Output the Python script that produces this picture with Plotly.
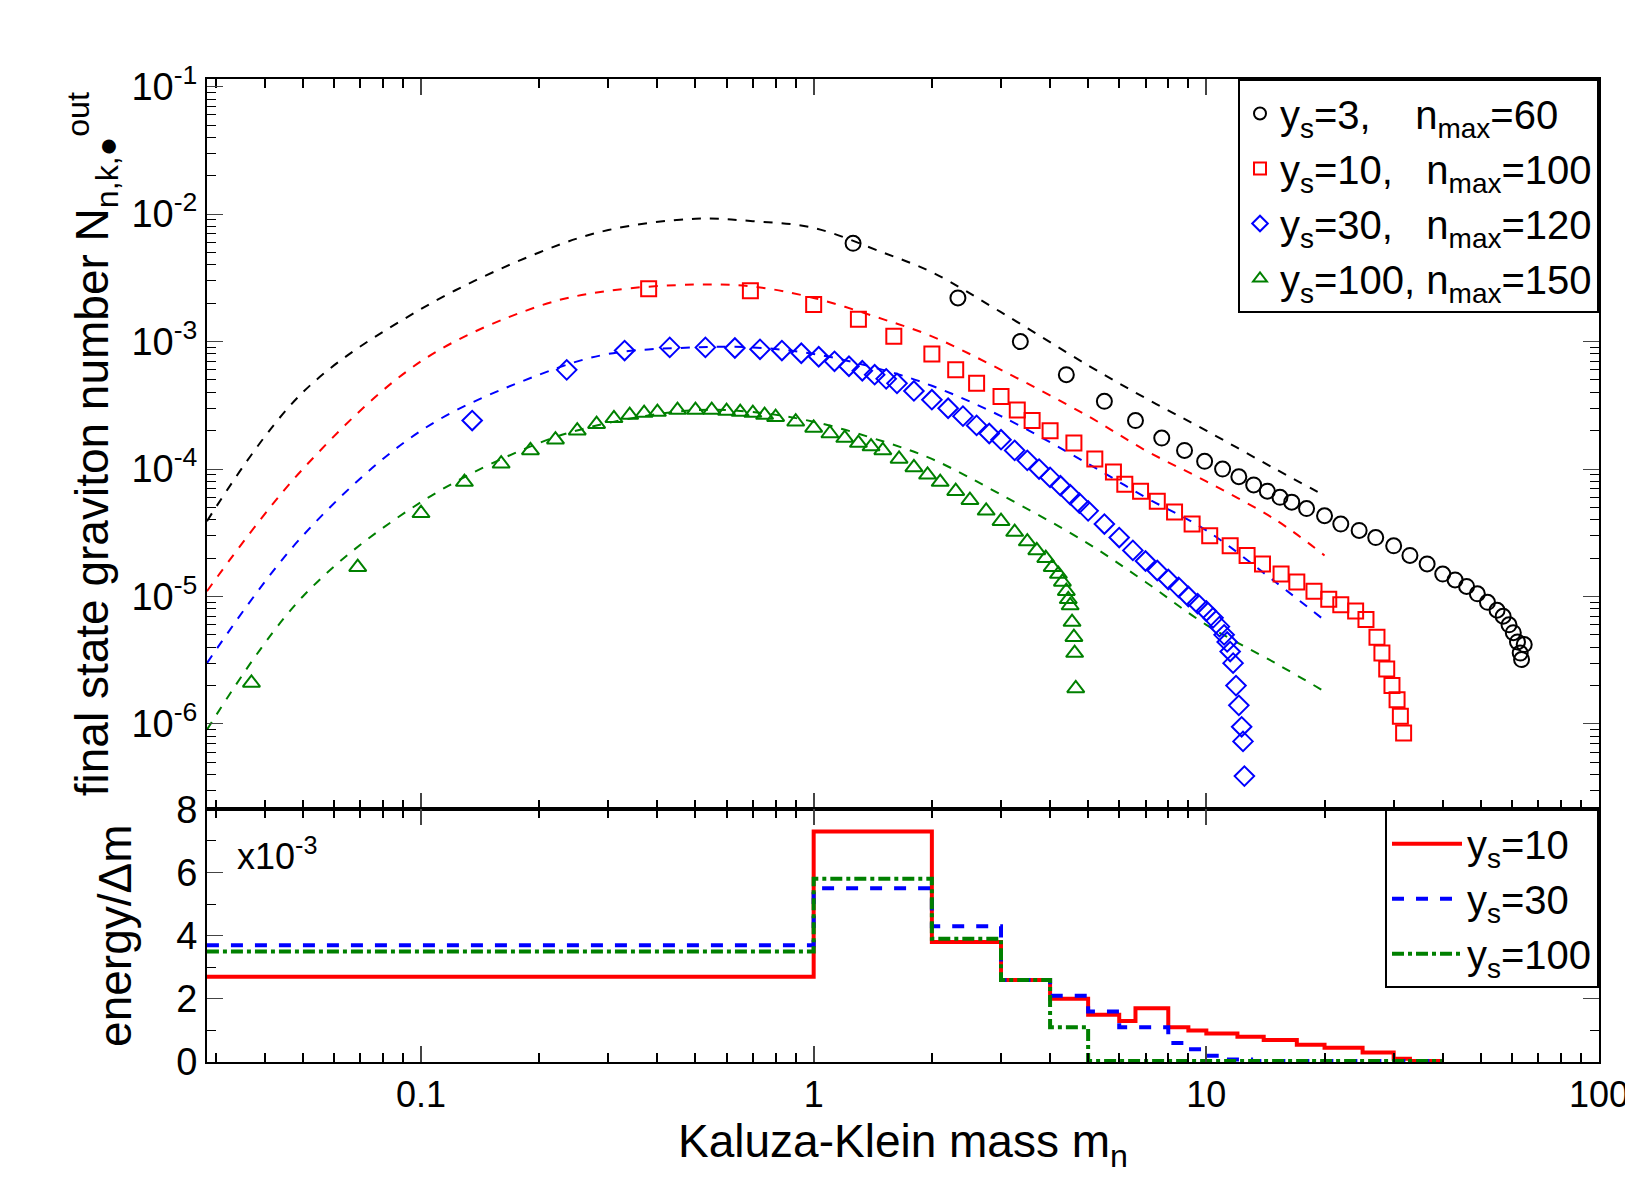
import plotly.graph_objects as go

# ---------- data ----------
curve_m = [0.0285, 0.05, 0.1, 0.2, 0.3, 0.5, 0.7, 1, 1.5, 2, 3, 5, 7, 10, 15, 20]
curve_y3 = [3.9e-5, 4e-4, 1.8e-3, 5e-3, 7.5e-3, 9.2e-3, 8.8e-3, 7.8e-3, 5e-3, 3.5e-3, 1.7e-3, 6.5e-4, 3.6e-4, 2e-4, 1e-4, 6.2e-5]
curve_y10 = [1.1e-5, 1e-4, 7e-4, 1.9e-3, 2.5e-3, 2.8e-3, 2.7e-3, 2.2e-3, 1.5e-3, 1.1e-3, 6e-4, 2.6e-4, 1.4e-4, 8e-5, 4e-5, 2.1e-5]
curve_y30 = [3e-6, 3e-5, 2e-4, 5.5e-4, 8e-4, 9e-4, 9e-4, 8e-4, 6e-4, 4.5e-4, 2.6e-4, 1.1e-4, 6e-5, 3.3e-5, 1.3e-5, 6.5e-6]
curve_y100 = [9e-7, 1e-5, 5.5e-5, 1.6e-4, 2.3e-4, 2.9e-4, 2.8e-4, 2.35e-4, 1.65e-4, 1.2e-4, 6.3e-5, 2.6e-5, 1.3e-5, 6e-6, 3e-6, 1.8e-6]

m3 = [1.26, 2.33, 3.36, 4.4, 5.5, 6.6, 7.7, 8.8, 9.9, 11, 12.1, 13.2, 14.3, 15.4, 16.5, 18, 20, 22, 24.5, 27, 30, 33, 36.5, 40, 43, 46, 49, 52, 55, 57, 59, 60.5, 62, 63, 63.5, 64.5]
n3 = [5.9e-3, 2.2e-3, 1e-3, 5.5e-4, 3.4e-4, 2.4e-4, 1.75e-4, 1.4e-4, 1.15e-4, 1e-4, 8.7e-5, 7.5e-5, 6.7e-5, 6e-5, 5.5e-5, 4.9e-5, 4.3e-5, 3.7e-5, 3.3e-5, 2.9e-5, 2.5e-5, 2.1e-5, 1.8e-5, 1.5e-5, 1.35e-5, 1.2e-5, 1.05e-5, 9e-6, 7.8e-6, 7e-6, 6e-6, 5.2e-6, 4.4e-6, 3.6e-6, 3.2e-6, 4.2e-6]

m10 = [0.38, 0.69, 1.0, 1.3, 1.6, 2.0, 2.3, 2.6, 3.0, 3.3, 3.6, 4.0, 4.6, 5.2, 5.8, 6.2, 6.8, 7.5, 8.3, 9.2, 10.2, 11.5, 12.7, 13.9, 15.5, 17, 18.8, 20.5, 22, 24, 25.5, 27.2, 28, 28.8, 29.7, 30.6, 31.2, 31.8]
n10 = [2.6e-3, 2.5e-3, 1.95e-3, 1.5e-3, 1.1e-3, 8e-4, 6e-4, 4.7e-4, 3.7e-4, 2.9e-4, 2.4e-4, 2e-4, 1.6e-4, 1.2e-4, 9.5e-5, 7.6e-5, 6.7e-5, 5.6e-5, 4.6e-5, 3.7e-5, 3e-5, 2.5e-5, 2.1e-5, 1.8e-5, 1.5e-5, 1.3e-5, 1.1e-5, 9.5e-6, 8.6e-6, 7.7e-6, 6.6e-6, 4.8e-6, 3.6e-6, 2.7e-6, 2e-6, 1.55e-6, 1.15e-6, 8.5e-7]

m30 = [0.135, 0.235, 0.33, 0.43, 0.53, 0.63, 0.73, 0.83, 0.93, 1.03, 1.13, 1.23, 1.33, 1.43, 1.53, 1.63, 1.8, 2.0, 2.2, 2.4, 2.6, 2.8, 3.0, 3.25, 3.5, 3.75, 4.0, 4.25, 4.5, 4.75, 5.0, 5.5, 6.0, 6.5, 7.0, 7.5, 8.0, 8.5, 9.0, 9.5, 10.0, 10.4, 10.8, 11.1, 11.3, 11.5, 11.7, 11.9, 12.1, 12.3, 12.4, 12.5]
n30 = [2.4e-4, 6e-4, 8.5e-4, 9e-4, 9e-4, 8.9e-4, 8.7e-4, 8.5e-4, 8.1e-4, 7.6e-4, 7e-4, 6.4e-4, 5.9e-4, 5.5e-4, 5.1e-4, 4.7e-4, 4.1e-4, 3.5e-4, 3e-4, 2.6e-4, 2.2e-4, 1.9e-4, 1.7e-4, 1.4e-4, 1.17e-4, 1e-4, 8.6e-5, 7.4e-5, 6.3e-5, 5.4e-5, 4.7e-5, 3.7e-5, 2.9e-5, 2.3e-5, 1.9e-5, 1.6e-5, 1.36e-5, 1.18e-5, 1e-5, 8.8e-6, 7.7e-6, 6.8e-6, 5.8e-6, 5e-6, 4.4e-6, 3.7e-6, 3e-6, 2e-6, 1.4e-6, 9.5e-7, 7.3e-7, 3.9e-7]

m100 = [0.037, 0.069, 0.1, 0.129, 0.16, 0.19, 0.22, 0.25, 0.28, 0.31, 0.34, 0.37, 0.4, 0.45, 0.5, 0.55, 0.6, 0.65, 0.7, 0.75, 0.8, 0.9, 1.0, 1.1, 1.2, 1.3, 1.4, 1.5, 1.65, 1.8, 1.95, 2.1, 2.3, 2.5, 2.75, 3.0, 3.25, 3.5, 3.7, 3.9, 4.05, 4.2, 4.3, 4.4, 4.45, 4.5, 4.55, 4.6, 4.62, 4.65]
n100 = [2.1e-6, 1.7e-5, 4.5e-5, 7.9e-5, 1.1e-4, 1.4e-4, 1.7e-4, 2e-4, 2.25e-4, 2.5e-4, 2.65e-4, 2.75e-4, 2.8e-4, 2.9e-4, 2.9e-4, 2.9e-4, 2.85e-4, 2.8e-4, 2.75e-4, 2.65e-4, 2.55e-4, 2.35e-4, 2.1e-4, 1.9e-4, 1.75e-4, 1.6e-4, 1.5e-4, 1.4e-4, 1.2e-4, 1.03e-4, 9e-5, 7.9e-5, 6.7e-5, 5.7e-5, 4.7e-5, 3.9e-5, 3.2e-5, 2.7e-5, 2.3e-5, 2e-5, 1.7e-5, 1.5e-5, 1.3e-5, 1.1e-5, 9.5e-6, 8.5e-6, 6.3e-6, 4.8e-6, 3.6e-6, 1.9e-6]

# energy histogram (units of 1e-3), bin edges and values
e10_edges = [0.0285, 1, 2, 3, 4, 5, 6, 6.6, 8, 9, 10, 12, 14, 17, 20, 25, 30, 33, 40]
e10_vals = [2.7, 7.3, 3.8, 2.6, 2.0, 1.5, 1.3, 1.7, 1.1, 1.0, 0.9, 0.8, 0.7, 0.55, 0.45, 0.3, 0.1, 0.03]
e30_edges = [0.0285, 1, 2, 3, 4, 5, 6, 6.6, 8, 9, 10, 11, 13, 40]
e30_vals = [3.7, 5.5, 4.3, 2.6, 2.1, 1.6, 1.1, 1.1, 0.6, 0.4, 0.2, 0.08, 0.03]
e100_edges = [0.0285, 1, 2, 3, 4, 5, 40]
e100_vals = [3.5, 5.8, 3.9, 2.6, 1.1, 0.03]

# ---------- figure ----------
FONT = "Liberation Sans, Arial, sans-serif"
fig = go.Figure()

def curve(x, y, c):
    fig.add_trace(go.Scatter(x=x, y=y, mode="lines", line=dict(color=c, width=2, dash="dash"),
                             showlegend=False, xaxis="x", yaxis="y", line_shape="spline"))

def marks(x, y, c, sym, name):
    fig.add_trace(go.Scatter(x=x, y=y, mode="markers", name=name,
                             marker=dict(symbol=sym, size=15, color=c, line=dict(color=c, width=2)),
                             xaxis="x", yaxis="y", legend="legend"))

curve(curve_m, curve_y3, "black")
curve(curve_m, curve_y10, "red")
curve(curve_m, curve_y30, "blue")
curve(curve_m, curve_y100, "green")
marks(m3, n3, "black", "circle-open", "y<sub>s</sub>=3,    n<sub>max</sub>=60")
marks(m10, n10, "red", "square-open", "y<sub>s</sub>=10,   n<sub>max</sub>=100")
marks(m30, n30, "blue", "diamond-open", "y<sub>s</sub>=30,   n<sub>max</sub>=120")
marks(m100, n100, "green", "triangle-up-open", "y<sub>s</sub>=100, n<sub>max</sub>=150")

def hist(edges, vals, c, dash, name):
    fig.add_trace(go.Scatter(x=edges, y=[v * 1e-3 for v in vals] + [vals[-1] * 1e-3],
                             mode="lines", line_shape="hv", name=name,
                             line=dict(color=c, width=4, dash=dash),
                             xaxis="x2", yaxis="y2", legend="legend2"))

hist(e10_edges, e10_vals, "red", "solid", "y<sub>s</sub>=10")
hist(e30_edges, e30_vals, "blue", "dash", "y<sub>s</sub>=30")
hist(e100_edges, e100_vals, "green", "dashdot", "y<sub>s</sub>=100")

minor_x = [k * 10.0 ** e for e in range(-2, 2) for k in range(2, 10)]
minor_y = [k * 10.0 ** e for e in range(-7, -1) for k in range(2, 10)]

xr = [-1.545, 2.0]
split = 0.257
common_x = dict(type="log", range=xr, showgrid=False, ticks="inside", ticklen=16, tickwidth=1.5,
                mirror="allticks", showline=True, linecolor="black", linewidth=2, zeroline=False,
                minor=dict(ticks="inside", ticklen=9, tickvals=minor_x, tickcolor="black", showgrid=False),
                tickfont=dict(size=36, family=FONT))
fig.update_layout(
    width=1633, height=1183, plot_bgcolor="white", paper_bgcolor="white",
    margin=dict(l=199, r=38, t=71, b=129),
    font=dict(family=FONT, color="black"),
    xaxis=dict(common_x, domain=[0, 1], anchor="y", showticklabels=False,
               tickvals=[0.1, 1, 10, 100]),
    yaxis=dict(type="log", domain=[split, 1], range=[-6.67, -0.94], anchor="x",
               tickvals=[1e-1, 1e-2, 1e-3, 1e-4, 1e-5, 1e-6],
               ticktext=["10<sup>-1</sup>", "10<sup>-2</sup>", "10<sup>-3</sup>", "10<sup>-4</sup>", "10<sup>-5</sup>", "10<sup>-6</sup>"],
               ticks="inside", ticklen=16, mirror="allticks", showline=True, linecolor="black", linewidth=2,
               showgrid=False, zeroline=False, tickfont=dict(size=38, family=FONT),
               minor=dict(ticks="inside", ticklen=9, tickvals=minor_y, tickcolor="black", showgrid=False),
               title=dict(text="final state graviton number N<sub>n,k,●</sub><sup>out</sup>",
                          font=dict(size=46, family=FONT), standoff=8)),
    xaxis2=dict(common_x, domain=[0, 1], anchor="y2", tickvals=[0.1, 1, 10, 100],
                ticktext=["0.1", "1", "10", "100"],
                title=dict(text="Kaluza-Klein mass m<sub>n</sub>", font=dict(size=46, family=FONT), standoff=6)),
    yaxis2=dict(domain=[0, split], range=[0, 0.008], anchor="x2",
                tickvals=[0, 0.002, 0.004, 0.006, 0.008], ticktext=["0", "2", "4", "6", "8"],
                ticks="inside", ticklen=16, mirror="allticks", showline=True, linecolor="black", linewidth=2,
                showgrid=False, zeroline=False, tickfont=dict(size=38, family=FONT),
                minor=dict(ticks="inside", ticklen=9, dtick=0.001, tickcolor="black", showgrid=False),
                title=dict(text="energy/Δm", font=dict(size=46, family=FONT), standoff=30)),
    legend=dict(x=1, y=1, xanchor="right", yanchor="top", bgcolor="white", bordercolor="black",
                borderwidth=2, font=dict(size=40, family=FONT), tracegroupgap=0, itemsizing="constant"),
    legend2=dict(x=1, y=split, xanchor="right", yanchor="top", bgcolor="white", bordercolor="black",
                 borderwidth=2, font=dict(size=40, family=FONT), itemwidth=70),
    annotations=[dict(text="x10<sup>-3</sup>", xref="paper", yref="paper", x=0.02, y=split - 0.045,
                      xanchor="left", yanchor="middle", showarrow=False, font=dict(size=36, family=FONT))],
)
fig.write_html("out.html")
